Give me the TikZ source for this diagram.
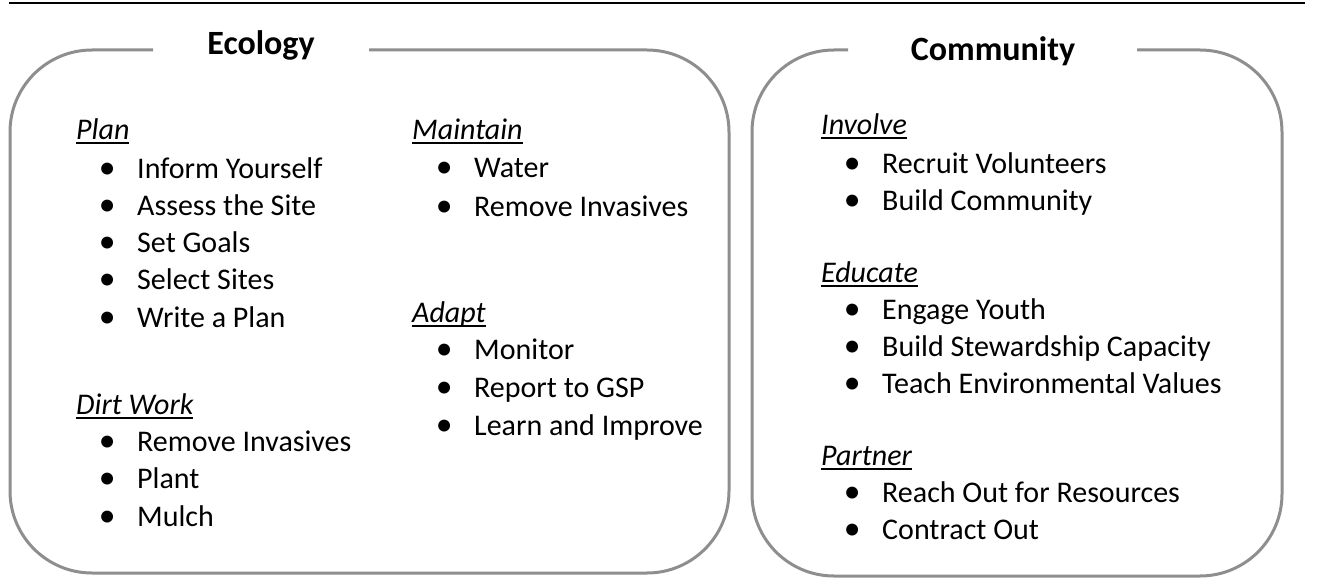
\documentclass[tikz,border=0pt]{standalone}
\usepackage{fontspec}
\setmainfont{Carlito}
\definecolor{boxgray}{RGB}{142,142,142}
\newcommand\bul[1]{\llap{\makebox[0pt][c]{\raisebox{-0.6pt}{\scalebox{1.12}{•}}}\hspace{30pt}}#1}
\newcommand\ulh[1]{\setbox0\hbox{#1}\rlap{\rule[-4.5pt]{\wd0}{1.5pt}}\box0}
\tikzset{
  frame/.style={draw=boxgray, line width=3pt, rounded corners=82pt},
  head/.style={anchor=base west, inner sep=0pt, font=\fontsize{30}{36}\selectfont\itshape},
  item/.style={anchor=base west, inner sep=0pt, font=\fontsize{30}{36}\selectfont},
  title/.style={anchor=base, inner sep=0pt, font=\fontsize{34}{40}\selectfont\bfseries},
}
\begin{document}
\begin{tikzpicture}[x=1pt,y=-1pt]
\useasboundingbox (0,0) rectangle (1328,586);
% top rule
\draw[line width=2.5pt] (9,3) -- (1305,3);
% frames
\draw[frame] (153,50) -- (10,50) -- (10,573) -- (729,573) -- (729,50) -- (369,50);
\draw[frame] (848,50) -- (752,50) -- (752,576) -- (1282,576) -- (1282,50) -- (1137,50);
% titles
\node[title] (teco) at (261,55) {Ecology};
\node[title] (tcom) at (993,60) {Community};
% Ecology left column
\node[head] (plan) at (76,139) {\ulh{Plan}};
\node[item] (p1) at (137,178) {\bul{Inform Yourself}};
\node[item] (p2) at (137,215) {\bul{Assess the Site}};
\node[item] (p3) at (137,252) {\bul{Set Goals}};
\node[item] (p4) at (137,289) {\bul{Select Sites}};
\node[item] (p5) at (137,327) {\bul{Write a Plan}};
\node[head] (dirt) at (76,414) {\ulh{Dirt Work}};
\node[item] (d1) at (137,451) {\bul{Remove Invasives}};
\node[item] (d2) at (137,488) {\bul{Plant}};
\node[item] (d3) at (137,526) {\bul{Mulch}};
% Ecology right column
\node[head] (maint) at (412,139) {\ulh{Maintain}};
\node[item] (m1) at (474,177) {\bul{Water}};
\node[item] (m2) at (474,216) {\bul{Remove Invasives}};
\node[head] (adapt) at (412,322) {\ulh{Adapt}};
\node[item] (a1) at (474,359) {\bul{Monitor}};
\node[item] (a2) at (474,397) {\bul{Report to GSP}};
\node[item] (a3) at (474,435) {\bul{Learn and Improve}};
% Community
\node[head] (inv) at (821,134) {\ulh{Involve}};
\node[item] (i1) at (882,173) {\bul{Recruit Volunteers}};
\node[item] (i2) at (882,210) {\bul{Build Community}};
\node[head] (edu) at (821,282) {\ulh{Educate}};
\node[item] (e1) at (882,319) {\bul{Engage Youth}};
\node[item] (e2) at (882,356) {\bul{Build Stewardship Capacity}};
\node[item] (e3) at (882,393) {\bul{Teach Environmental Values}};
\node[head] (part) at (821,465) {\ulh{Partner}};
\node[item] (r1) at (882,502) {\bul{Reach Out for Resources}};
\node[item] (r2) at (882,539) {\bul{Contract Out}};
\end{tikzpicture}
\end{document}
